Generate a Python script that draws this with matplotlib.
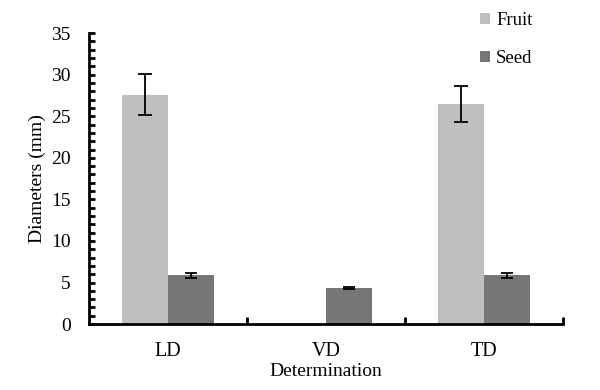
import numpy as np
import matplotlib.pyplot as plt
from matplotlib.ticker import MultipleLocator, FixedLocator

# data
categories = ["LD", "VD", "TD"]
fruit = [27.6, 0, 26.5]
fruit_err = [2.45, 0, 2.2]
seed = [5.9, 4.35, 5.85]
seed_err = [0.3, 0.1, 0.25]

plt.rcParams['font.family'] = ['Liberation Serif', 'DejaVu Serif']

fig = plt.figure(figsize=(6, 3.9), dpi=100)
ax = fig.add_axes([0.148, 0.169, 0.79, 0.746])

x = np.arange(len(categories))
w = 0.29
ekw = dict(elinewidth=1.3, capthick=1.3)
b1 = ax.bar(x - w / 2, fruit, w, color="#bfbfbf", label="Fruit")
ax.errorbar(x[[0, 2]] - w / 2, np.array(fruit)[[0, 2]], yerr=np.array(fruit_err)[[0, 2]],
            fmt="none", ecolor="black", capsize=5, **ekw)
b2 = ax.bar(x + w / 2, seed, w, color="#767676", label="Seed")
ax.errorbar(x + w / 2, seed, yerr=seed_err, fmt="none", ecolor="black", capsize=4, **ekw)

ax.set_xlim(-0.5, 2.5)
ax.set_ylim(0, 35)
ax.yaxis.set_major_locator(MultipleLocator(5))
ax.yaxis.set_minor_locator(MultipleLocator(1))
ax.set_xticks(x)
ax.set_xticklabels(categories, fontsize=14.5)
ax.xaxis.set_minor_locator(FixedLocator([0.5, 1.5, 2.5]))
ax.tick_params(axis="x", which="major", length=0, pad=13)
ax.tick_params(axis="x", which="minor", direction="in", length=5, width=2)
ax.tick_params(axis="y", which="both", direction="in", length=4, width=2, labelsize=14, pad=13)

for s in ["top", "right"]:
    ax.spines[s].set_visible(False)
for s in ["left", "bottom"]:
    ax.spines[s].set_linewidth(2)

ax.set_ylabel("Diameters (mm)", fontsize=14, labelpad=4)
ax.set_xlabel("Determination", fontsize=14, labelpad=1)

ax.legend(handles=[b1, b2], loc="upper left", bbox_to_anchor=(0.79, 1.13), frameon=False,
          fontsize=13.5, handlelength=0.55, handleheight=0.55, handletextpad=0.3,
          labelspacing=1.1)

fig.savefig("out.png", dpi=100)
